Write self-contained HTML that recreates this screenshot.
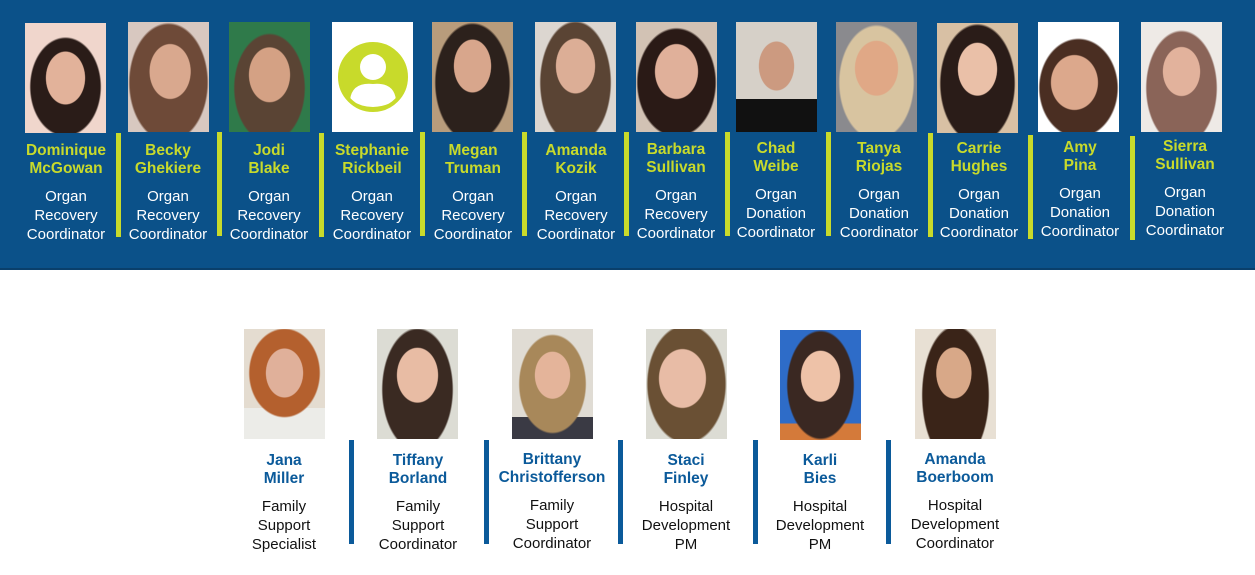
<!DOCTYPE html>
<html><head><meta charset="utf-8"><style>
body{margin:0;width:1255px;height:575px;background:#fff;position:relative;overflow:hidden;font-family:"Liberation Sans",Arial,sans-serif}
#band{position:absolute;left:0;top:0;width:1255px;height:268px;background:#0b5189;border-bottom:2px solid #0a3f6b}
.p{position:absolute;width:81px;height:110px}
.c{position:absolute;width:120px;text-align:center}
.n{font-weight:bold;font-size:15.5px;line-height:18px;color:#c8da2b}
.r{font-size:15px;line-height:19px;color:#fff;margin-top:9px}
.b .n{color:#0b5a9a}
.b .r{color:#111}
.d{position:absolute;width:5px;background:#c8da2b}
.db{position:absolute;width:5px;background:#0b5a9a;top:440px;height:104px}
</style></head><body>
<div id="band"></div>
<!-- top photos -->
<div class="p" style="left:25px;top:23px;background:radial-gradient(ellipse 20px 27px at 50% 50%,#e2b29a 96%,transparent 100%),radial-gradient(ellipse 36px 50px at 50% 58%,#2a1c18 96%,transparent 100%),#f0d6cc"></div>
<div class="p" style="left:128px;top:22px;background:radial-gradient(ellipse 21px 28px at 52% 45%,#d9a88e 96%,transparent 100%),radial-gradient(ellipse 40px 60px at 50% 55%,#6e4a38 96%,transparent 100%),#d8c8c0"></div>
<div class="p" style="left:229px;top:22px;background:radial-gradient(ellipse 21px 28px at 50% 48%,#d4a184 96%,transparent 100%),radial-gradient(ellipse 36px 55px at 50% 60%,#5a4434 96%,transparent 100%),#2f7a4a"></div>
<div class="p" style="left:332px;top:22px;background:#fff"><svg width="82" height="110"><circle cx="41" cy="55" r="33" fill="#c8da2b"/><circle cx="41" cy="45" r="13" fill="#fff"/><path d="M18 78 Q20 60 41 62 Q62 60 64 78 Q41 92 18 78Z" fill="#fff"/><circle cx="41" cy="55" r="33" fill="none" stroke="#c8da2b" stroke-width="4"/></svg></div>
<div class="p" style="left:432px;top:22px;background:radial-gradient(ellipse 19px 27px at 50% 40%,#d8a68c 96%,transparent 100%),radial-gradient(ellipse 38px 60px at 50% 55%,#2c211c 96%,transparent 100%),#b89c7c"></div>
<div class="p" style="left:535px;top:22px;background:radial-gradient(ellipse 20px 28px at 50% 40%,#dcae96 96%,transparent 100%),radial-gradient(ellipse 36px 62px at 50% 55%,#5a4434 96%,transparent 100%),#dcd6d0"></div>
<div class="p" style="left:636px;top:22px;background:radial-gradient(ellipse 22px 28px at 50% 45%,#e0b09a 96%,transparent 100%),radial-gradient(ellipse 40px 55px at 50% 55%,#2a1a16 96%,transparent 100%),#d2c2b4"></div>
<div class="p" style="left:736px;top:22px;background:radial-gradient(ellipse 18px 25px at 50% 40%,#cc9a80 96%,transparent 100%),linear-gradient(#d6d0c8 70%,#111 70%)"></div>
<div class="p" style="left:836px;top:22px;background:radial-gradient(ellipse 22px 28px at 50% 42%,#e0a886 96%,transparent 100%),radial-gradient(ellipse 38px 58px at 50% 55%,#d8c4a0 96%,transparent 100%),#8a8a8e"></div>
<div class="p" style="left:937px;top:23px;background:radial-gradient(ellipse 20px 27px at 50% 42%,#eac0a8 96%,transparent 100%),radial-gradient(ellipse 38px 60px at 50% 55%,#2a1c18 96%,transparent 100%),#d8c0a4"></div>
<div class="p" style="left:1038px;top:22px;background:radial-gradient(ellipse 24px 28px at 45% 55%,#dca88c 96%,transparent 100%),radial-gradient(ellipse 40px 50px at 50% 60%,#4a2e22 96%,transparent 100%),#fff"></div>
<div class="p" style="left:1141px;top:22px;background:radial-gradient(ellipse 19px 25px at 50% 45%,#e2b29c 96%,transparent 100%),radial-gradient(ellipse 36px 58px at 50% 60%,#8a6458 96%,transparent 100%),#eeeae6"></div>
<!-- top dividers -->
<div class="d" style="left:116px;top:133px;height:104px"></div>
<div class="d" style="left:217px;top:132px;height:104px"></div>
<div class="d" style="left:319px;top:133px;height:104px"></div>
<div class="d" style="left:420px;top:132px;height:104px"></div>
<div class="d" style="left:522px;top:132px;height:104px"></div>
<div class="d" style="left:624px;top:132px;height:104px"></div>
<div class="d" style="left:725px;top:132px;height:104px"></div>
<div class="d" style="left:826px;top:132px;height:104px"></div>
<div class="d" style="left:928px;top:133px;height:104px"></div>
<div class="d" style="left:1028px;top:135px;height:104px"></div>
<div class="d" style="left:1130px;top:136px;height:104px"></div>
<!-- top text -->
<div class="c" style="left:6px;top:142px"><div class="n">Dominique<br>McGowan</div><div class="r">Organ<br>Recovery<br>Coordinator</div></div>
<div class="c" style="left:108px;top:142px"><div class="n">Becky<br>Ghekiere</div><div class="r">Organ<br>Recovery<br>Coordinator</div></div>
<div class="c" style="left:209px;top:142px"><div class="n">Jodi<br>Blake</div><div class="r">Organ<br>Recovery<br>Coordinator</div></div>
<div class="c" style="left:312px;top:142px"><div class="n">Stephanie<br>Rickbeil</div><div class="r">Organ<br>Recovery<br>Coordinator</div></div>
<div class="c" style="left:413px;top:142px"><div class="n">Megan<br>Truman</div><div class="r">Organ<br>Recovery<br>Coordinator</div></div>
<div class="c" style="left:516px;top:142px"><div class="n">Amanda<br>Kozik</div><div class="r">Organ<br>Recovery<br>Coordinator</div></div>
<div class="c" style="left:616px;top:141px"><div class="n">Barbara<br>Sullivan</div><div class="r">Organ<br>Recovery<br>Coordinator</div></div>
<div class="c" style="left:716px;top:140px"><div class="n">Chad<br>Weibe</div><div class="r">Organ<br>Donation<br>Coordinator</div></div>
<div class="c" style="left:819px;top:140px"><div class="n">Tanya<br>Riojas</div><div class="r">Organ<br>Donation<br>Coordinator</div></div>
<div class="c" style="left:919px;top:140px"><div class="n">Carrie<br>Hughes</div><div class="r">Organ<br>Donation<br>Coordinator</div></div>
<div class="c" style="left:1020px;top:139px"><div class="n">Amy<br>Pina</div><div class="r">Organ<br>Donation<br>Coordinator</div></div>
<div class="c" style="left:1125px;top:138px"><div class="n">Sierra<br>Sullivan</div><div class="r">Organ<br>Donation<br>Coordinator</div></div>
<!-- bottom photos -->
<div class="p" style="left:244px;top:329px;background:radial-gradient(ellipse 19px 25px at 50% 40%,#e0b09a 96%,transparent 100%),radial-gradient(ellipse 36px 45px at 50% 40%,#b4602e 96%,transparent 100%),linear-gradient(#e4dcd0 72%,#ecece8 72%)"></div>
<div class="p" style="left:377px;top:329px;background:radial-gradient(ellipse 21px 28px at 50% 42%,#e8bca4 96%,transparent 100%),radial-gradient(ellipse 36px 62px at 50% 55%,#3a2a22 96%,transparent 100%),#dcdcd4"></div>
<div class="p" style="left:512px;top:329px;background:radial-gradient(ellipse 18px 24px at 50% 42%,#e4b49a 96%,transparent 100%),radial-gradient(ellipse 34px 50px at 50% 50%,#a8885a 96%,transparent 100%),linear-gradient(#e0dcd4 80%,#3a3a44 80%)"></div>
<div class="p" style="left:646px;top:329px;background:radial-gradient(ellipse 24px 30px at 45% 45%,#e8bca6 96%,transparent 100%),radial-gradient(ellipse 40px 60px at 50% 50%,#6a5034 96%,transparent 100%),#dcdcd4"></div>
<div class="p" style="left:780px;top:330px;background:radial-gradient(ellipse 20px 26px at 50% 42%,#eec2a8 96%,transparent 100%),radial-gradient(ellipse 34px 55px at 50% 50%,#3a2822 96%,transparent 100%),linear-gradient(#2e6cc8 85%,#d47a3a 85%)"></div>
<div class="p" style="left:915px;top:329px;background:radial-gradient(ellipse 18px 26px at 48% 40%,#d8a888 96%,transparent 100%),radial-gradient(ellipse 34px 70px at 50% 60%,#3a2418 96%,transparent 100%),#e8e0d4"></div>
<!-- bottom dividers -->
<div class="db" style="left:349px"></div>
<div class="db" style="left:484px"></div>
<div class="db" style="left:618px"></div>
<div class="db" style="left:753px"></div>
<div class="db" style="left:886px"></div>
<!-- bottom text -->
<div class="c b" style="left:224px;top:452px"><div class="n">Jana<br>Miller</div><div class="r">Family<br>Support<br>Specialist</div></div>
<div class="c b" style="left:358px;top:452px"><div class="n">Tiffany<br>Borland</div><div class="r">Family<br>Support<br>Coordinator</div></div>
<div class="c b" style="left:492px;top:451px"><div class="n">Brittany<br>Christofferson</div><div class="r">Family<br>Support<br>Coordinator</div></div>
<div class="c b" style="left:626px;top:452px"><div class="n">Staci<br>Finley</div><div class="r">Hospital<br>Development<br>PM</div></div>
<div class="c b" style="left:760px;top:452px"><div class="n">Karli<br>Bies</div><div class="r">Hospital<br>Development<br>PM</div></div>
<div class="c b" style="left:895px;top:451px"><div class="n">Amanda<br>Boerboom</div><div class="r">Hospital<br>Development<br>Coordinator</div></div>
</body></html>
